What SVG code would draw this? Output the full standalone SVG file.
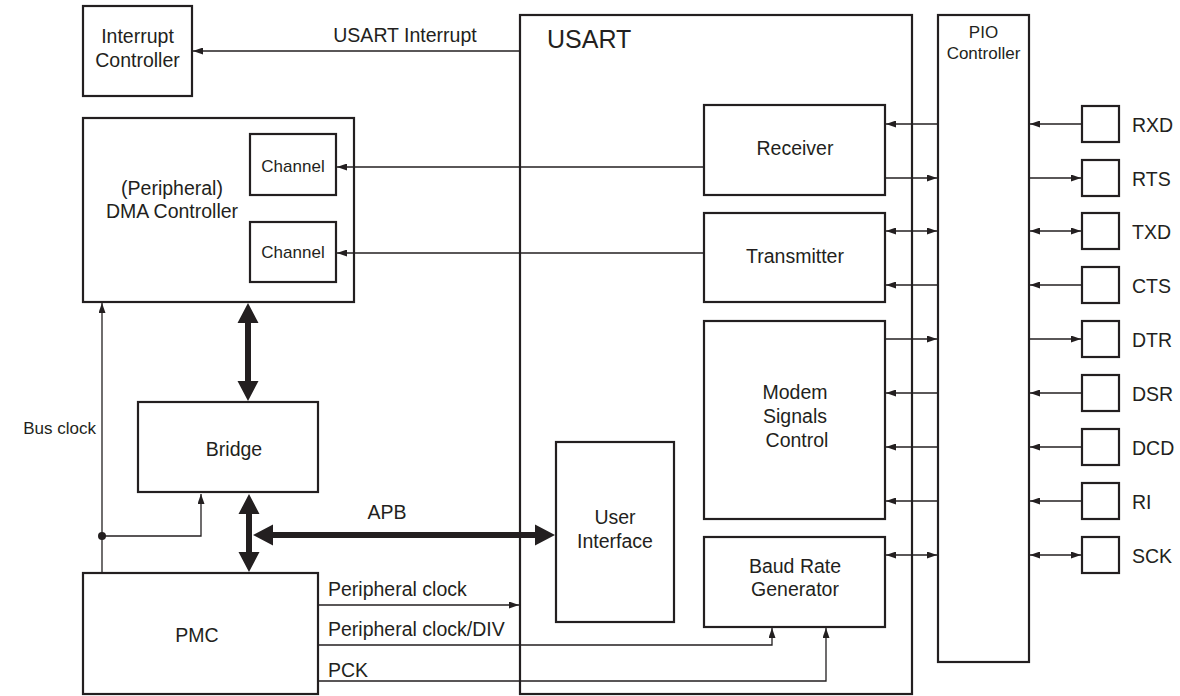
<svg xmlns="http://www.w3.org/2000/svg" width="1180" height="696" viewBox="0 0 1180 696">
<style>
.box{fill:#fff;stroke:#231f20;stroke-width:2.2}
.ln{fill:none;stroke:#231f20;stroke-width:1.3}
.thick{fill:#231f20;stroke:none}
text{font-family:"Liberation Sans",Arial,sans-serif;fill:#231f20;font-size:19.5px}
.c{text-anchor:middle}
.sm{font-size:17px}
</style>
<defs>
<marker id="a" viewBox="0 0 10 7" markerWidth="10" markerHeight="7" refX="10" refY="3.5" orient="auto-start-reverse" markerUnits="userSpaceOnUse">
<path d="M0,0 L10,3.5 L0,7 z" fill="#231f20"/>
</marker>
</defs>
<rect width="1180" height="696" fill="#fff"/>

<g id="usart">
<rect class="box" x="520" y="15" width="392" height="679"/>
<text x="547" y="48" style="font-size:25px">USART</text>
</g>
<g id="interrupt-controller">
<rect class="box" x="83" y="6" width="109" height="90"/>
<text class="c" x="137.5" y="43">Interrupt</text>
<text class="c" x="137.5" y="67">Controller</text>
</g>
<g id="dma-controller">
<rect class="box" x="83" y="118" width="271" height="184"/>
<text class="c" x="172" y="195">(Peripheral)</text>
<text class="c" x="172" y="218">DMA Controller</text>
</g>
<g id="channel1">
<rect class="box" x="250" y="134" width="86" height="61"/>
<text class="c sm" x="293" y="172">Channel</text>
</g>
<g id="channel2">
<rect class="box" x="250" y="222" width="86" height="60"/>
<text class="c sm" x="293" y="258">Channel</text>
</g>
<g id="bridge">
<rect class="box" x="138" y="402" width="180" height="90"/>
<text class="c" x="234" y="456">Bridge</text>
</g>
<g id="pmc">
<rect class="box" x="83" y="573" width="235" height="121"/>
<text class="c" x="197" y="642">PMC</text>
</g>
<g id="receiver">
<rect class="box" x="704" y="105" width="181" height="90"/>
<text class="c" x="795" y="155">Receiver</text>
</g>
<g id="transmitter">
<rect class="box" x="704" y="213" width="181" height="89"/>
<text class="c" x="795" y="263">Transmitter</text>
</g>
<g id="modem">
<rect class="box" x="704" y="321" width="181" height="198"/>
<text class="c" x="795" y="399">Modem</text>
<text class="c" x="795" y="423">Signals</text>
<text class="c" x="797" y="447">Control</text>
</g>
<g id="baud">
<rect class="box" x="704" y="537" width="181" height="90"/>
<text class="c" x="795" y="573">Baud Rate</text>
<text class="c" x="795" y="596">Generator</text>
</g>
<g id="user-interface">
<rect class="box" x="556" y="442" width="118" height="180"/>
<text class="c" x="615" y="524">User</text>
<text class="c" x="615" y="548">Interface</text>
</g>
<g id="pio">
<rect class="box" x="938" y="15" width="91" height="647"/>
<text class="c sm" x="983.5" y="38">PIO</text>
<text class="c sm" x="983.5" y="59">Controller</text>
</g>
<g id="pins">
<g id="pin-rxd"><rect class="box" x="1082" y="106" width="37" height="36"/><text x="1132" y="132">RXD</text></g>
<g id="pin-rts"><rect class="box" x="1082" y="160" width="37" height="36"/><text x="1132" y="186">RTS</text></g>
<g id="pin-txd"><rect class="box" x="1082" y="213" width="37" height="36"/><text x="1132" y="239">TXD</text></g>
<g id="pin-cts"><rect class="box" x="1082" y="267" width="37" height="36"/><text x="1132" y="293">CTS</text></g>
<g id="pin-dtr"><rect class="box" x="1082" y="321" width="37" height="36"/><text x="1132" y="347">DTR</text></g>
<g id="pin-dsr"><rect class="box" x="1082" y="375" width="37" height="36"/><text x="1132" y="401">DSR</text></g>
<g id="pin-dcd"><rect class="box" x="1082" y="429" width="37" height="36"/><text x="1132" y="455">DCD</text></g>
<g id="pin-ri"><rect class="box" x="1082" y="483" width="37" height="36"/><text x="1132" y="509">RI</text></g>
<g id="pin-sck"><rect class="box" x="1082" y="537" width="37" height="36"/><text x="1132" y="563">SCK</text></g>
</g>

<g id="connectors">
<path class="ln" d="M520,51 H193" marker-end="url(#a)"/>
<text class="c" x="405" y="42">USART Interrupt</text>
<path class="ln" d="M704,167 H337" marker-end="url(#a)"/>
<path class="ln" d="M704,253 H337" marker-end="url(#a)"/>
<path class="ln" d="M938,124 H886" marker-end="url(#a)"/>
<path class="ln" d="M885,178 H937" marker-end="url(#a)"/>
<path class="ln" d="M886,231 H937" marker-start="url(#a)" marker-end="url(#a)"/>
<path class="ln" d="M938,285 H886" marker-end="url(#a)"/>
<path class="ln" d="M885,339 H937" marker-end="url(#a)"/>
<path class="ln" d="M938,393 H886" marker-end="url(#a)"/>
<path class="ln" d="M938,447 H886" marker-end="url(#a)"/>
<path class="ln" d="M938,501 H886" marker-end="url(#a)"/>
<path class="ln" d="M886,555 H937" marker-start="url(#a)" marker-end="url(#a)"/>
<path class="ln" d="M1082,124 H1030" marker-end="url(#a)"/>
<path class="ln" d="M1029,178 H1081" marker-end="url(#a)"/>
<path class="ln" d="M1030,231 H1081" marker-start="url(#a)" marker-end="url(#a)"/>
<path class="ln" d="M1082,285 H1030" marker-end="url(#a)"/>
<path class="ln" d="M1029,339 H1081" marker-end="url(#a)"/>
<path class="ln" d="M1082,393 H1030" marker-end="url(#a)"/>
<path class="ln" d="M1082,447 H1030" marker-end="url(#a)"/>
<path class="ln" d="M1082,501 H1030" marker-end="url(#a)"/>
<path class="ln" d="M1030,555 H1081" marker-start="url(#a)" marker-end="url(#a)"/>
<path class="ln" d="M102,573 V303" marker-end="url(#a)"/>
<text x="96" y="434" text-anchor="end" style="font-size:17px">Bus clock</text>
<circle cx="102" cy="536" r="4" fill="#231f20"/>
<path class="ln" d="M102,536 H201 V494" marker-end="url(#a)"/>
<polygon class="thick" points="248,303 258.5,323 251,323 251,381 258.5,381 248,401 237.5,381 245,381 245,323 237.5,323"/>
<polygon class="thick" points="249,494 259.5,514 252,514 252,552 259.5,552 249,572 238.5,552 246,552 246,514 238.5,514"/>
<polygon class="thick" points="253,535 273,524.5 273,532 535,532 535,524.5 555,535 535,545.5 535,538 273,538 273,545.5"/>
<text class="c" x="387" y="519">APB</text>
<path class="ln" d="M318,605 H519" marker-end="url(#a)"/>
<text x="328" y="596">Peripheral clock</text>
<path class="ln" d="M318,645 H772 V628" marker-end="url(#a)"/>
<text x="328" y="636">Peripheral clock/DIV</text>
<path class="ln" d="M318,681 H826 V628" marker-end="url(#a)"/>
<text x="328" y="677">PCK</text>
</g>
</svg>
